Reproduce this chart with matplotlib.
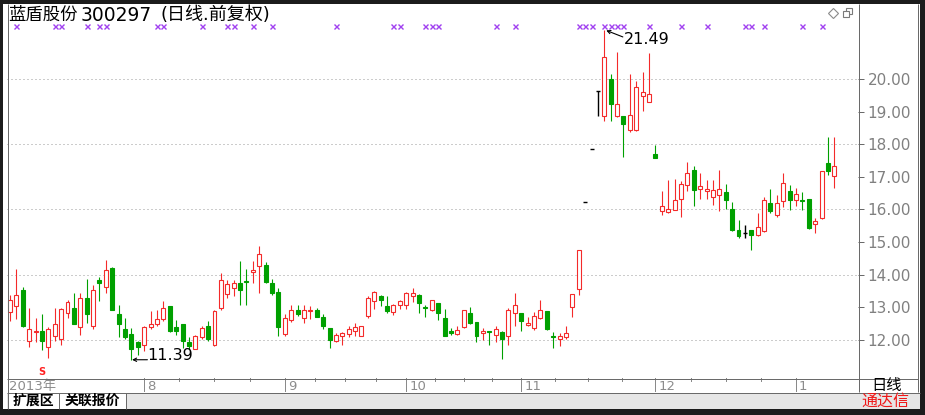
import numpy as np
import matplotlib
matplotlib.use("Agg")
import matplotlib.pyplot as plt
from matplotlib.patches import Rectangle

plt.rcParams['font.family'] = ['DejaVu Sans', 'Noto Sans CJK SC']

# ---- data -------------------------------------------------------------
stock_name = "蓝盾股份"
stock_code = "300297"
title_tail = "(日线.前复权)"

opens = [12.85, 13.03, 13.53, 11.98, 12.23, 12.28, 11.78, 12.13, 12.03, 12.83,
         12.98, 12.38, 13.28, 12.43, 13.83, 13.63, 14.21, 12.78, 12.33, 12.18,
         11.93, 11.83, 12.38, 12.48, 12.63, 13.05, 12.38, 12.48, 11.93, 11.71,
         12.08, 12.43, 11.83, 12.98, 13.41, 13.58, 13.73, 13.81, 14.07, 14.25,
         14.30, 13.73, 13.48, 12.18, 12.61, 12.93, 12.68, 12.88, 12.93, 12.71,
         12.35, 11.95, 12.11, 12.18, 12.28, 12.11, 12.73, 13.18, 13.35, 13.03,
         12.85, 13.08, 13.08, 13.33, 13.38, 13.01, 12.91, 13.13, 12.68, 12.28,
         12.18, 12.38, 12.83, 12.55, 12.21, 12.28, 12.15, 12.25, 12.11, 12.81,
         12.81, 12.45, 12.35, 12.68, 12.88, 12.13, 12.03, 12.08, 13.01, 13.55,
         16.23, 17.85, 19.64, 18.87, 20.00, 18.87, 18.87, 18.43, 18.43, 19.49,
         19.28, 17.70, 15.95, 15.92, 15.99, 16.33, 16.74, 17.20, 16.64, 16.56,
         16.38, 16.43, 16.53, 16.02, 15.37, 15.27, 15.37, 15.23, 15.33, 16.19,
         15.82, 16.26, 16.58, 16.30, 16.30, 16.33, 15.56, 15.74, 17.41, 17.02]
highs = [13.38, 14.18, 13.63, 12.98, 12.68, 12.78, 12.38, 12.98, 12.98, 13.23,
         13.45, 13.43, 13.88, 13.68, 13.93, 14.45, 14.23, 13.08, 12.68, 12.35,
         11.98, 12.43, 12.88, 12.93, 13.18, 13.05, 12.61, 12.48, 12.08, 12.15,
         12.43, 12.58, 12.93, 14.05, 13.83, 13.83, 14.43, 14.18, 14.43, 14.88,
         14.38, 13.88, 13.58, 12.78, 13.08, 13.08, 13.08, 13.03, 12.98, 12.78,
         12.35, 12.21, 12.25, 12.43, 12.51, 12.41, 13.35, 13.51, 13.38, 13.33,
         13.11, 13.23, 13.48, 13.58, 13.41, 13.08, 13.23, 13.13, 12.95, 12.35,
         12.43, 12.93, 13.01, 12.55, 12.35, 12.28, 12.41, 12.28, 12.98, 13.45,
         12.81, 12.71, 12.85, 13.23, 12.88, 12.25, 12.21, 12.43, 13.41, 14.75,
         16.23, 17.85, 19.64, 21.49, 20.15, 20.82, 18.87, 20.15, 19.95, 20.20,
         20.80, 17.98, 16.56, 16.89, 16.94, 16.87, 17.46, 17.32, 17.12, 16.91,
         16.89, 17.20, 16.79, 16.23, 15.68, 15.51, 15.37, 15.89, 16.38, 16.64,
         16.43, 17.12, 16.74, 16.67, 16.53, 16.33, 15.74, 17.18, 18.23, 18.23]
lows = [12.58, 12.63, 12.38, 11.78, 11.93, 11.68, 11.43, 11.98, 11.83, 12.68,
        12.48, 12.15, 12.51, 12.33, 13.18, 13.43, 12.91, 12.08, 12.03, 11.39,
        11.53, 11.65, 12.33, 12.43, 12.58, 12.25, 12.15, 11.75, 11.73, 11.71,
        12.03, 11.98, 11.81, 12.93, 13.28, 13.33, 13.08, 13.08, 13.73, 13.43,
        13.75, 13.38, 12.11, 12.13, 12.55, 12.73, 12.53, 12.65, 12.71, 12.33,
        11.75, 11.93, 11.83, 12.08, 12.13, 12.11, 12.68, 12.95, 13.05, 12.81,
        12.75, 12.95, 12.95, 13.15, 12.83, 12.71, 12.88, 12.61, 12.11, 12.15,
        12.15, 12.35, 12.48, 11.93, 12.01, 11.85, 11.93, 11.42, 11.83, 12.41,
        12.28, 12.41, 12.31, 12.65, 12.31, 11.75, 11.81, 12.03, 12.71, 13.38,
        16.23, 17.85, 18.87, 18.72, 18.72, 18.82, 17.61, 18.36, 18.41, 19.03,
        19.28, 17.59, 15.82, 15.89, 15.97, 15.78, 16.58, 16.12, 16.33, 16.33,
        16.15, 15.95, 16.02, 15.35, 15.13, 15.13, 14.76, 15.20, 15.30, 15.89,
        15.76, 16.07, 15.99, 16.12, 15.99, 15.41, 15.27, 15.71, 17.05, 16.67]
closes = [13.23, 13.38, 12.43, 12.33, 12.28, 11.98, 12.33, 12.48, 12.95, 13.15,
          12.48, 13.28, 12.78, 13.53, 13.73, 14.15, 12.91, 12.48, 12.08, 11.73,
          11.78, 12.38, 12.48, 12.65, 12.98, 12.28, 12.28, 11.98, 11.81, 12.11,
          12.35, 12.03, 12.88, 13.85, 13.71, 13.73, 13.53, 13.76, 14.15, 14.63,
          13.78, 13.43, 12.38, 12.68, 12.93, 12.78, 12.93, 12.93, 12.71, 12.43,
          12.01, 12.15, 12.21, 12.33, 12.38, 12.41, 13.28, 13.48, 13.23, 12.88,
          13.08, 13.18, 13.43, 13.45, 13.13, 12.98, 13.21, 12.83, 12.13, 12.21,
          12.31, 12.91, 12.53, 12.11, 12.28, 12.25, 12.33, 12.03, 12.91, 13.08,
          12.58, 12.53, 12.73, 12.91, 12.33, 12.08, 12.11, 12.21, 13.41, 14.75,
          16.23, 17.85, 19.64, 20.67, 19.23, 19.23, 18.62, 18.90, 19.74, 19.59,
          19.54, 17.59, 16.09, 16.02, 16.28, 16.79, 17.12, 16.61, 16.71, 16.64,
          16.61, 16.64, 16.28, 15.37, 15.17, 15.27, 15.23, 15.46, 16.28, 15.95,
          16.19, 16.81, 16.30, 16.46, 16.26, 15.44, 15.66, 17.18, 17.18, 17.32]

month_labels = ['2013年', '8', '9', '10', '11', '12', '1']
month_starts = [0, 21, 43, 62, 80, 101, 123]

signal_days = [1, 7, 8, 12, 14, 15, 23, 24, 30, 34, 35, 38, 41, 51, 60, 61,
               65, 66, 67, 76, 79, 89, 90, 91, 93, 94, 95, 96, 100, 105, 109,
               115, 116, 118, 124, 127]
sell_day = 5

price_ticks = [12, 13, 14, 15, 16, 17, 18, 19, 20]
grid_levels = [12, 14, 16, 18, 20]

# ---- styling ----------------------------------------------------------
W, H = 925, 415
UP, DOWN, FLAT = '#f42a2a', '#00a000', '#000000'
LINE = '#6a6a6a'
LABEL = '#808080'
PX = 72 / 100  # one pixel in points

fig = plt.figure(figsize=(W / 100, H / 100), dpi=100)
fig.patch.set_facecolor('white')


def fig_rect(x0, y0, x1, y1):
    return [x0 / W, 1 - y1 / H, (x1 - x0) / W, (y1 - y0) / H]


# main price panel
ax = fig.add_axes(fig_rect(7, 4, 858, 378))
ax.set_facecolor('white')
n = len(opens)
ax.set_xlim(-0.47, 132.7)
ax.set_ylim(10.83, 22.30)
for s in ax.spines.values():
    s.set_visible(False)
ax.set_xticks([])
ax.yaxis.tick_right()
ax.set_yticks(price_ticks)
ax.set_yticklabels([f'{v:.2f}' for v in price_ticks])
ax.tick_params(axis='y', direction='out', length=4, width=PX, color=LINE,
               labelcolor=LABEL, labelsize=11, pad=3)

for g in grid_levels:
    ax.axhline(g, color='#9a9a9a', lw=PX, linestyle=(0, (1, 3)), zorder=1)

bw = 0.31
for i in range(n):
    o, h, l, c = opens[i], highs[i], lows[i], closes[i]
    if c > o:
        ax.plot([i, i], [l, h], color=UP, lw=PX * 1.1, zorder=2,
                solid_capstyle='butt')
        ax.add_patch(Rectangle((i - bw, o), 2 * bw, c - o, facecolor='white',
                               edgecolor=UP, lw=PX * 1.1, zorder=3))
    elif c < o:
        ax.plot([i, i], [l, h], color=DOWN, lw=PX * 1.1, zorder=2,
                solid_capstyle='butt')
        ax.add_patch(Rectangle((i - bw, c), 2 * bw, o - c, facecolor=DOWN,
                               edgecolor=DOWN, lw=PX * 1.1, zorder=3))
    else:
        ax.plot([i, i], [l, h], color=FLAT, lw=PX * 1.4, zorder=2,
                solid_capstyle='butt')
        ax.plot([i - bw, i + bw], [o, o], color=FLAT, lw=PX * 1.4, zorder=3,
                solid_capstyle='butt')

# signal crosses along the top of the panel
xt = ax.get_xaxis_transform()
ax.plot(signal_days, [0.94] * len(signal_days), linestyle='none', marker='x',
        ms=3.6, mew=1.0, color='#a040f0', transform=xt, zorder=4)

# sell signal
ax.text(sell_day, 0.016, 'S', transform=xt, color='#ff2020', fontsize=7,
        fontweight='bold', ha='center', va='center')

# lowest / highest price labels
i_lo = int(np.argmin(lows))
i_hi = int(np.argmax(highs))
lo, hi = lows[i_lo], highs[i_hi]
ax.annotate('', xy=(i_lo + 0.1, lo), xytext=(i_lo + 2.5, lo),
            arrowprops=dict(arrowstyle='->', color='black', lw=0.8,
                            shrinkA=0, shrinkB=0, mutation_scale=6))
ax.text(i_lo + 2.5, lo, f'{lo:.2f}', ha='left', va='baseline',
        fontsize=11.5, color='black')
ax.annotate('', xy=(i_hi + 0.3, hi), xytext=(i_hi + 2.9, hi - 0.2),
            arrowprops=dict(arrowstyle='->', color='black', lw=0.8,
                            shrinkA=0, shrinkB=0, mutation_scale=6))
ax.text(i_hi + 3.0, hi - 0.04, f'{hi:.2f}', ha='left', va='top',
        fontsize=11.5, color='black')

# date strip
dx = fig.add_axes(fig_rect(7, 378, 858, 392), sharex=ax)
dx.set_facecolor('white')
dx.set_ylim(0, 1)
for s in dx.spines.values():
    s.set_visible(False)
dx.tick_params(left=False, bottom=False, labelleft=False, labelbottom=False)
for k, (lab, st) in enumerate(zip(month_labels, month_starts)):
    if k > 0:
        dx.plot([st, st], [0.1, 1], color='#8a8a8a', lw=PX)
        dx.text(st + 0.45, 0.42, lab, ha='left', va='center', fontsize=9.5,
                color='#8c8c8c')
    else:
        dx.text(st - 0.1, 0.42, lab, ha='left', va='center', fontsize=9.5,
                color='#8c8c8c')
for k in range(1, len(month_starts) - 1):
    a, b = month_starts[k], month_starts[k + 1]
    for q in (1, 2, 3):
        xq = a + (b - a) * q / 4
        dx.plot([xq, xq], [0.78, 1], color='#8a8a8a', lw=PX)

# frame, tabs and captions drawn in pixel space on top
ov = fig.add_axes([0, 0, 1, 1], zorder=10)
ov.set_xlim(0, W)
ov.set_ylim(H, 0)
ov.axis('off')
ov.patch.set_alpha(0)

ov.add_patch(Rectangle((7, 392.5), 913, 16.5, facecolor='#e6e6e6',
                       edgecolor='none'))
ov.add_patch(Rectangle((7.5, 392.5), 51, 16.5, facecolor='white',
                       edgecolor='none'))
ov.add_patch(Rectangle((58.5, 392.5), 67, 16.5, facecolor='white',
                       edgecolor='none'))

for (x0, y0, x1, y1) in [(7.5, 4, 7.5, 409), (858.5, 4, 858.5, 392),
                         (917.5, 4, 917.5, 392), (7, 378.5, 918, 378.5),
                         (7, 392.5, 920, 392.5), (58.5, 392.5, 58.5, 409),
                         (125.5, 392.5, 125.5, 409)]:
    ov.plot([x0, x1], [y0, y1], color=LINE, lw=PX, solid_capstyle='butt')

# outer dark frame
for (x0, y0, w, h) in [(0, 0, W, 4), (0, 0, 3, H), (920, 0, 5, H),
                       (0, 409, W, 6)]:
    ov.add_patch(Rectangle((x0, y0), w, h, facecolor='#1c1c1c',
                           edgecolor='none'))

# title
ov.text(8, 15, stock_name, ha='left', va='center', fontsize=12.5,
        family=['Noto Sans CJK SC'], color='black')
ov.text(81, 15.5, stock_code, ha='left', va='center', fontsize=13.5,
        color='black')
ov.text(160, 15, title_tail, ha='left', va='center', fontsize=13,
        color='black')

# window icons
ov.plot([833], [13], marker='D', ms=5, mfc='white', mec='#8a8a8a', mew=0.8)
ov.add_patch(Rectangle((845.5, 8.5), 6, 6, facecolor='white',
                       edgecolor='#7a7a7a', lw=0.8))
ov.add_patch(Rectangle((842.5, 11.5), 6, 6, facecolor='white',
                       edgecolor='#7a7a7a', lw=0.8))

# tabs and captions
ov.text(33, 401, '扩展区', ha='center', va='center', fontsize=10,
        fontweight='bold', family=['Noto Sans CJK SC'], color='black')
ov.text(92, 401, '关联报价', ha='center', va='center', fontsize=10,
        fontweight='bold', family=['Noto Sans CJK SC'], color='black')
ov.text(887, 385, '日线', ha='center', va='center', fontsize=11,
        family=['Noto Sans CJK SC'], color='black')
ov.text(885, 401, '通达信', ha='center', va='center', fontsize=11.5,
        family=['Noto Sans CJK SC'], color='#f01818')

fig.savefig('out.png', dpi=100)
